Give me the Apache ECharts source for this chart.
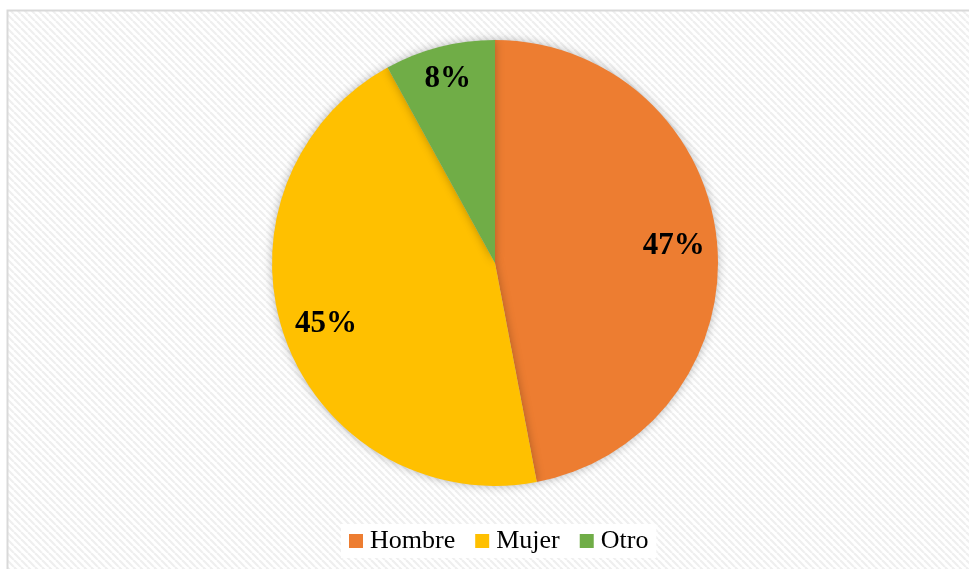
<!DOCTYPE html>
<html>
<head>
<meta charset="utf-8">
<script src="https://cdn.jsdelivr.net/npm/echarts@6/dist/echarts.min.js"></script>
<style>
  html, body { margin: 0; padding: 0; background: #fff; }
  #chart { width: 969px; height: 569px; }
</style>
</head>
<body>
<div id="chart"></div>
<script>
// datos del gráfico
var categorias = ["Hombre", "Mujer", "Otro"];
var valores = [47, 45, 8];
var colores = ["#ED7D31", "#FFC000", "#70AD47"];

// patrón de rayas diagonales del fondo
function hatch() {
  var c = document.createElement("canvas");
  c.width = 7;
  c.height = 7;
  var ctx = c.getContext("2d");
  ctx.fillStyle = "#ffffff";
  ctx.fillRect(0, 0, 7, 7);
  ctx.strokeStyle = "#efefef";
  ctx.lineWidth = 2.2;
  [-7, 0, 7].forEach(function (o) {
    ctx.beginPath();
    ctx.moveTo(o, 0);
    ctx.lineTo(o + 7, 7);
    ctx.stroke();
  });
  return c;
}

var datos = categorias.map(function (n, i) {
  return { name: n, value: valores[i], itemStyle: { color: colores[i] } };
});

// etiquetas en series transparentes (la de "Otro" va más afuera)
function etiquetas(soloOtro) {
  return categorias.map(function (n, i) {
    var mostrar = soloOtro ? n === "Otro" : n !== "Otro";
    return { name: n, value: valores[i], label: { show: mostrar } };
  });
}

var estiloEtiqueta = {
  show: true,
  position: "inside",
  formatter: "{c}%",
  fontFamily: "Liberation Serif",
  fontWeight: "bold",
  fontSize: 31,
  color: "#000"
};

var myChart = echarts.init(document.getElementById("chart"));
myChart.setOption({
  backgroundColor: "#fff",
  animation: false,
  graphic: [
    {
      type: "rect",
      z: -10,
      shape: { x: 7.5, y: 10.5, width: 980, height: 580 },
      style: { fill: { image: hatch(), repeat: "repeat" }, stroke: "#d9d9d9", lineWidth: 2 }
    }
  ],
  legend: {
    data: categorias,
    left: 341,
    top: 524,
    backgroundColor: "#fff",
    padding: [4, 8],
    itemWidth: 14,
    itemHeight: 14,
    itemGap: 20,
    icon: "rect",
    textStyle: { fontFamily: "Liberation Serif", fontSize: 26, color: "#000", padding: [0, 0, 0, 2] }
  },
  series: [
    {
      type: "pie",
      center: [495, 263],
      radius: [0, 223],
      startAngle: 90,
      clockwise: true,
      label: { show: false },
      labelLine: { show: false },
      itemStyle: { shadowBlur: 10, shadowColor: "rgba(0,0,0,0.28)" },
      emphasis: { disabled: true },
      data: datos
    },
    {
      type: "pie",
      center: [495, 263],
      radius: [130, 223],
      startAngle: 90,
      clockwise: true,
      silent: true,
      itemStyle: { color: "rgba(0,0,0,0)" },
      label: estiloEtiqueta,
      labelLine: { show: false },
      legendHoverLink: false,
      data: etiquetas(false)
    },
    {
      type: "pie",
      center: [495, 263],
      radius: [150, 223],
      startAngle: 90,
      clockwise: true,
      silent: true,
      itemStyle: { color: "rgba(0,0,0,0)" },
      label: estiloEtiqueta,
      labelLine: { show: false },
      legendHoverLink: false,
      data: etiquetas(true)
    }
  ]
});
</script>
</body>
</html>
